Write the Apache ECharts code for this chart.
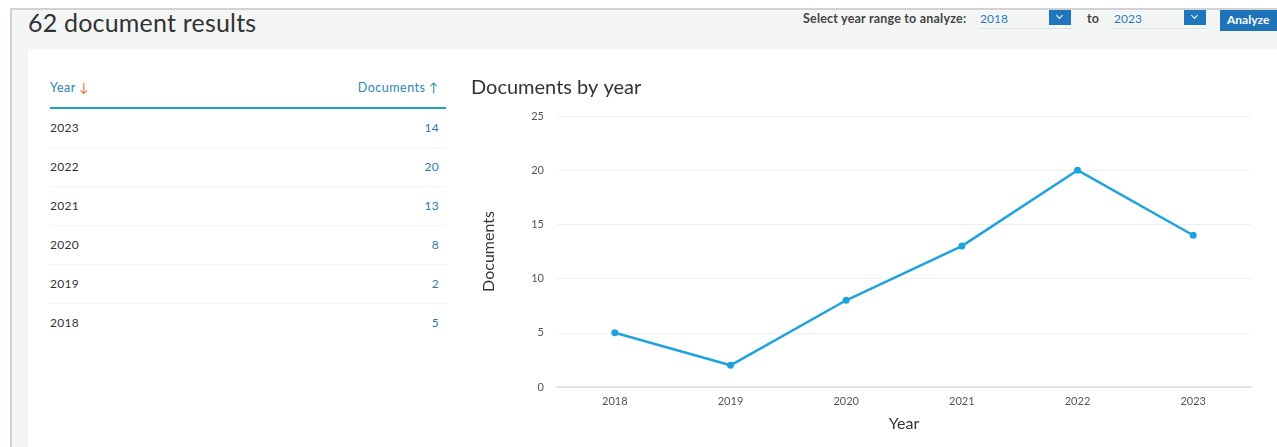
<!DOCTYPE html>
<html>
<head>
<meta charset="utf-8">
<script src="https://cdn.jsdelivr.net/npm/echarts@6/dist/echarts.min.js"></script>
<style>
  html, body { margin:0; padding:0; width:1277px; height:447px; overflow:hidden; background:#ffffff; font-family: Lato, "Open Sans", sans-serif; }
  #frame { position:absolute; left:10px; top:8px; width:1267px; height:439px; border-left:2px solid #d2d2d2; border-top:2px solid #d2d2d2; background:#f4f6f6; box-sizing:border-box; }
  #panel { position:absolute; left:28px; top:49px; width:1249px; height:398px; background:#ffffff; }
  #heading { position:absolute; left:28px; top:7px; font-size:25px; color:#333; letter-spacing:0.2px; }
  .lbl { position:absolute; top:11px; font-size:12.5px; font-weight:bold; color:#444; white-space:nowrap; letter-spacing:0.2px; }
  .sel { position:absolute; top:10px; height:19px; border-bottom:1px solid #dde3e6; font-size:12px; color:#2a7ab8; line-height:17px; padding-left:2px; box-sizing:border-box; }
  .btn { position:absolute; top:10px; width:22px; height:15px; background:#1f76bd; }
  .btn:after { content:''; position:absolute; left:8px; top:3px; width:4px; height:4px; border-right:1.5px solid #fff; border-bottom:1.5px solid #fff; transform:rotate(45deg); }
  #analyze { position:absolute; left:1220px; top:10px; width:60px; height:21px; background:#1f73b8; color:#fff; font-weight:bold; font-size:12px; line-height:19px; padding-left:7px; box-sizing:border-box; }
  #table { position:absolute; left:50px; top:72px; width:396px; }
  .th { position:relative; height:35px; border-bottom:2px solid #1aa3b8; font-size:12.5px; color:#2a86b5; letter-spacing:0.5px; }
  .th span { position:absolute; top:8px; }
  .row { position:relative; height:38px; border-bottom:1px solid #f2f3f4; font-size:12px; }
  .row:last-child { border-bottom:none; }
  .row .y { position:absolute; left:0; top:11px; color:#333; letter-spacing:0.3px; }
  .row .v { position:absolute; right:7px; top:11px; color:#2a7ab0; letter-spacing:0.3px; }
  #chart { position:absolute; left:460px; top:60px; width:817px; height:387px; }
</style>
</head>
<body>
<div id="frame"></div>
<div id="panel"></div>
<div id="heading">62 document results</div>
<div class="lbl" style="left:803px;">Select year range to analyze:</div>
<div class="sel" style="left:978px;width:94px;"><span id="fromYear"></span></div>
<div class="btn" style="left:1049px;"></div>
<div class="lbl" style="left:1087px;">to</div>
<div class="sel" style="left:1112px;width:94px;"><span id="toYear"></span></div>
<div class="btn" style="left:1184px;"></div>
<div id="analyze">Analyze</div>
<div id="table"></div>
<div id="chart"></div>
<script>
// ---- data ----
var years = ['2018', '2019', '2020', '2021', '2022', '2023'];
var documents = [5, 2, 8, 13, 20, 14];
var yTicks = [0, 5, 10, 15, 20, 25];

document.getElementById('fromYear').textContent = years[0];
document.getElementById('toYear').textContent = years[years.length - 1];

// table (sorted descending by year)
var tbl = document.getElementById('table');
var html = '<div class="th"><span style="left:0">Year <span style="position:static;color:#e8663a">&#8595;</span></span><span style="right:7px">Documents &#8593;</span></div>';
for (var i = years.length - 1; i >= 0; i--) {
  html += '<div class="row"><span class="y">' + years[i] + '</span><span class="v">' + documents[i] + '</span></div>';
}
tbl.innerHTML = html;

var chart = echarts.init(document.getElementById('chart'), null, {renderer: 'canvas'});
chart.setOption({
  animation: false,
  backgroundColor: 'transparent',
  title: {
    text: 'Documents by year',
    left: 6, top: 13,
    textStyle: { fontFamily: 'Lato', fontSize: 20, fontWeight: 'normal', color: '#333' }
  },
  grid: { left: 97, right: 26, top: 56, bottom: 60 },
  xAxis: {
    type: 'category',
    data: years,
    boundaryGap: true,
    name: 'Year',
    nameLocation: 'middle',
    nameGap: 29,
    nameTextStyle: { fontFamily: 'Lato', fontSize: 16, color: '#333' },
    axisLine: { lineStyle: { color: '#d9dae6', width: 1.5 } },
    axisTick: { show: false },
    axisLabel: { fontFamily: 'Lato', fontSize: 11, color: '#555', margin: 9 }
  },
  yAxis: {
    type: 'value',
    min: yTicks[0], max: yTicks[yTicks.length - 1], interval: yTicks[1] - yTicks[0],
    name: 'Documents',
    nameLocation: 'middle',
    nameGap: 60,
    nameRotate: 90,
    nameTextStyle: { fontFamily: 'Lato', fontSize: 16, color: '#333' },
    axisLine: { show: false },
    axisTick: { show: false },
    axisLabel: { fontFamily: 'Lato', fontSize: 11, color: '#555', margin: 13 },
    splitLine: { lineStyle: { color: '#efefef', width: 1 } }
  },
  series: [{
    type: 'line',
    data: documents,
    symbol: 'circle',
    symbolSize: 7,
    lineStyle: { color: '#1ea3dc', width: 2.5 },
    itemStyle: { color: '#1ea3dc' }
  }]
});
</script>
</body>
</html>
